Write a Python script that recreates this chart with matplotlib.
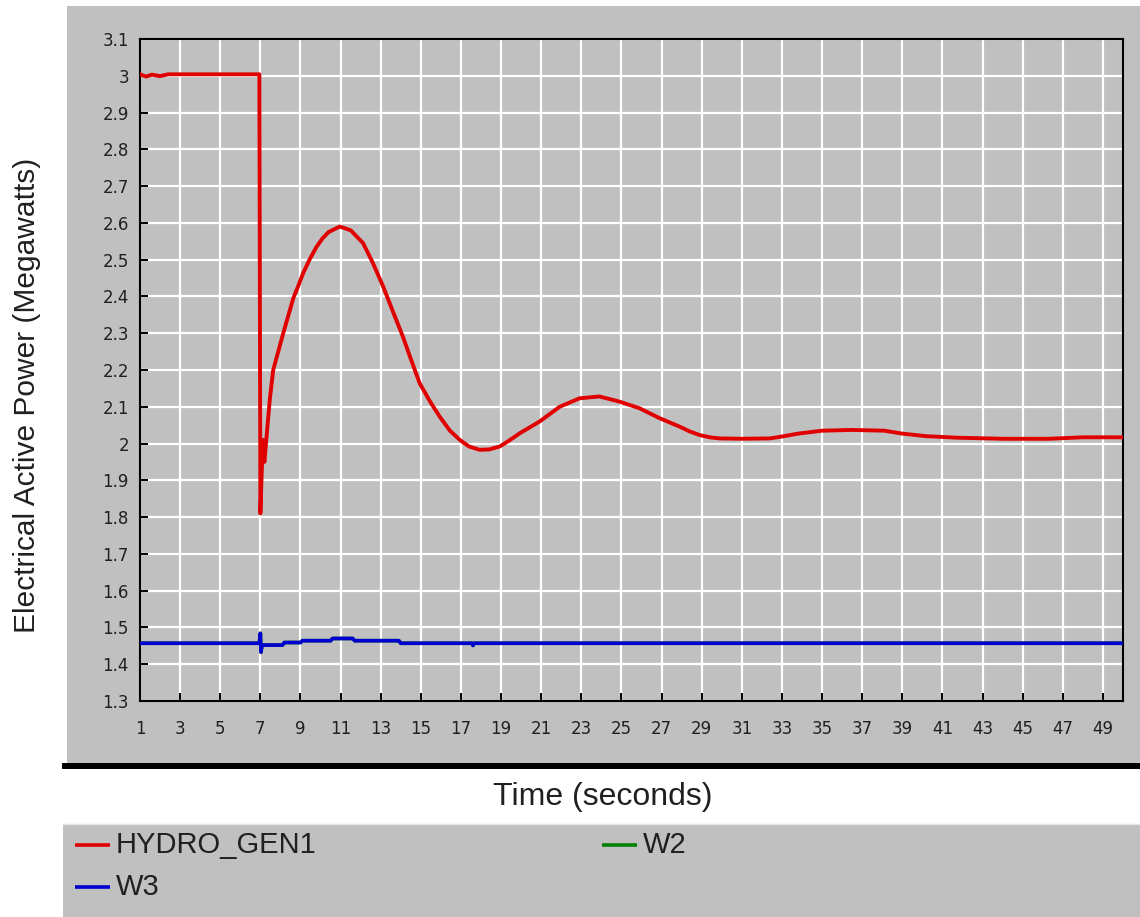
import matplotlib
matplotlib.use("Agg")
import matplotlib.pyplot as plt
from matplotlib.patches import Rectangle
from matplotlib.lines import Line2D

# ---- data -------------------------------------------------------------
hydro_time = [1.0, 1.3, 1.6, 2.0, 2.4, 3.0, 5.0, 6.95, 7.0, 7.12, 7.2, 7.47,
              7.64, 8.14, 8.64, 8.9, 9.13, 9.45, 9.8, 10.1, 10.4, 10.96,
              11.5, 12.12, 12.6, 13.12, 13.6, 14.11, 14.5, 14.94, 15.45,
              15.94, 16.45, 16.94, 17.4, 17.93, 18.4, 18.93, 19.4, 19.93,
              20.92, 21.92, 22.91, 23.9, 24.9, 25.9, 26.9, 27.9, 28.4, 28.9,
              29.4, 29.88, 31.0, 32.4, 33.1, 33.8, 35.0, 36.5, 38.1, 39.0,
              40.2, 41.7, 44.0, 46.3, 48.0, 50.0]
hydro_power = [3.004, 2.998, 3.003, 2.999, 3.004, 3.004, 3.004, 3.004, 1.81,
               2.01, 1.95, 2.12, 2.20, 2.30, 2.395, 2.43, 2.463, 2.50, 2.535,
               2.558, 2.575, 2.59, 2.58, 2.545, 2.492, 2.427, 2.36, 2.29,
               2.23, 2.164, 2.115, 2.073, 2.035, 2.01, 1.992, 1.983, 1.984,
               1.992, 2.008, 2.028, 2.06, 2.10, 2.123, 2.128, 2.114, 2.096,
               2.069, 2.046, 2.033, 2.023, 2.017, 2.014, 2.013, 2.014, 2.02,
               2.027, 2.035, 2.037, 2.035, 2.027, 2.02, 2.016, 2.013, 2.013,
               2.017, 2.017]

w3_time = [1.0, 6.95, 7.0, 7.03, 7.08, 8.1, 8.2, 9.0, 9.1, 10.5, 10.6, 11.6,
           11.7, 13.9, 14.0, 17.55, 17.6, 17.65, 50.0]
w3_power = [1.457, 1.457, 1.484, 1.433, 1.452, 1.452, 1.459, 1.459, 1.464,
            1.464, 1.47, 1.47, 1.464, 1.464, 1.457, 1.457, 1.451, 1.457, 1.457]

# W2 runs identical to W3 and is drawn beneath it
w2_time = list(w3_time)
w2_power = list(w3_power)

x_ticks = list(range(1, 50, 2))
y_ticks = [1.3, 1.4, 1.5, 1.6, 1.7, 1.8, 1.9, 2.0, 2.1, 2.2, 2.3, 2.4, 2.5,
           2.6, 2.7, 2.8, 2.9, 3.0, 3.1]
y_tick_labels = ["1.3", "1.4", "1.5", "1.6", "1.7", "1.8", "1.9", "2", "2.1",
                 "2.2", "2.3", "2.4", "2.5", "2.6", "2.7", "2.8", "2.9", "3",
                 "3.1"]

# ---- figure -----------------------------------------------------------
W, H = 1140, 917
fig = plt.figure(figsize=(W / 100, H / 100), dpi=100, facecolor="white")

def fx(px):
    return px / W

def fy(py):
    return 1 - py / H

PANEL = "#c0c0c0"

# chart panel (behind the axes)
fig.patches.append(Rectangle((fx(67), fy(765)), fx(W - 67), (765 - 6) / H,
                             transform=fig.transFigure, facecolor=PANEL,
                             edgecolor="none", zorder=-5))
# heavy rule under the chart panel
fig.lines.append(Line2D([fx(62), 1.0], [fy(766), fy(766)],
                        transform=fig.transFigure, color="black", lw=4.3,
                        solid_capstyle="butt", zorder=1))
# legend panel
fig.patches.append(Rectangle((fx(63), 0), 1 - fx(63), (H - 824) / H,
                             transform=fig.transFigure, facecolor=PANEL,
                             edgecolor="none", zorder=-5))
fig.lines.append(Line2D([fx(63), 1.0], [fy(823.5), fy(823.5)],
                        transform=fig.transFigure, color="#e4e4e4", lw=1.0,
                        zorder=1))

ax = fig.add_axes([fx(140), fy(701), (1123 - 140) / W, (701 - 39) / H])
ax.set_facecolor(PANEL)

ax.plot(w2_time, w2_power, color="#008000", lw=2.6, label="W2", zorder=3)
ax.plot(w3_time, w3_power, color="#0000d0", lw=2.6, label="W3", zorder=4)
ax.plot(hydro_time, hydro_power, color="#e00000", lw=2.8,
        label="HYDRO_GEN1", zorder=5, solid_joinstyle="round")

ax.set_xlim(1, 50)
ax.set_ylim(1.3, 3.1)
ax.set_xticks(x_ticks)
ax.set_yticks(y_ticks)
ax.set_yticklabels(y_tick_labels)
ax.grid(True, color="white", lw=1.6, zorder=1)
ax.set_axisbelow(True)

ax.tick_params(axis="both", direction="in", length=6, width=1.4,
               color="black", labelsize=12, labelcolor="#202020")
ax.tick_params(axis="x", pad=14)
ax.tick_params(axis="y", pad=8)
for s in ax.spines.values():
    s.set_color("black")
    s.set_linewidth(1.5)

# axis titles
fig.text(fx(603), fy(797), "Time (seconds)", ha="center", va="center",
         fontsize=23, family="Liberation Sans", color="#202020")
fig.text(fx(27), fy(395), "Electrical Active Power (Megawatts)",
         ha="center", va="center", rotation=90, fontsize=21.5,
         family="Liberation Sans", color="#202020")

# legend entries built from the plotted lines
lines = {l.get_label(): l for l in ax.get_lines()}
entries = [("HYDRO_GEN1", 75, 845), ("W2", 602, 845), ("W3", 75, 887)]
for name, x0, yc in entries:
    ln = lines[name]
    fig.lines.append(Line2D([fx(x0), fx(x0 + 35)], [fy(yc), fy(yc)],
                            transform=fig.transFigure, color=ln.get_color(),
                            lw=2.6, solid_capstyle="butt", zorder=2))
    fig.text(fx(x0 + 41), fy(yc), name, ha="left", va="center", fontsize=21,
             family="Liberation Sans", color="#202020")

fig.savefig("out.png", dpi=100, facecolor="white")
